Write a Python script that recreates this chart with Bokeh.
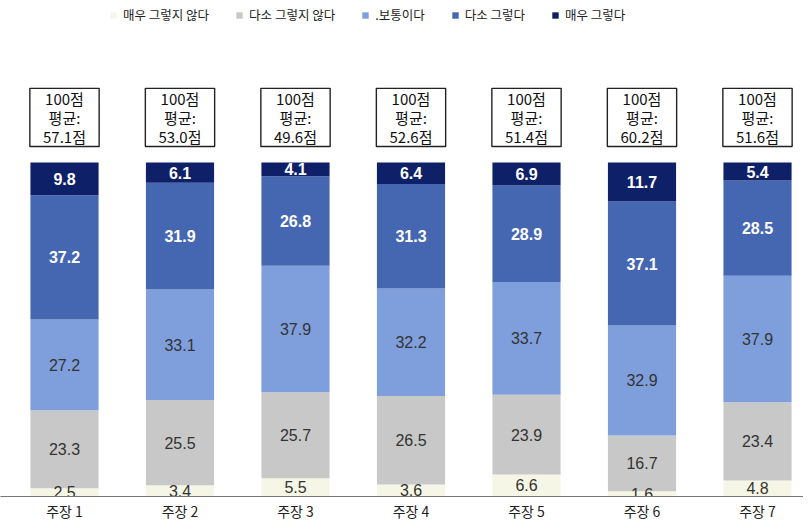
from bokeh.plotting import figure
from bokeh.models import ColumnDataSource, Range1d, FixedTicker, Legend, LegendItem
from bokeh.core.properties import value
from bokeh.embed import file_html
from bokeh.resources import INLINE

categories = ["주장 1", "주장 2", "주장 3", "주장 4", "주장 5", "주장 6", "주장 7"]
series_names = ["매우 그렇지 않다", "다소 그렇지 않다", ".보통이다", "다소 그렇다", "매우 그렇다"]
very_disagree = [2.5, 3.4, 5.5, 3.6, 6.6, 1.6, 4.8]
disagree = [23.3, 25.5, 25.7, 26.5, 23.9, 16.7, 23.4]
neutral = [27.2, 33.1, 37.9, 32.2, 33.7, 32.9, 37.9]
agree = [37.2, 31.9, 26.8, 31.3, 28.9, 37.1, 28.5]
strongly_agree = [9.8, 6.1, 4.1, 6.4, 6.9, 11.7, 5.4]
averages = [57.1, 53.0, 49.6, 52.6, 51.4, 60.2, 51.6]

colors = ["#F6F6E6", "#C8C8C8", "#7F9FDC", "#4567B2", "#0E2168"]
keys = ["s0", "s1", "s2", "s3", "s4"]
series = [very_disagree, disagree, neutral, agree, strongly_agree]

xs = list(range(1, len(categories) + 1))
data = {"x": xs}
for k, s in zip(keys, series):
    data[k] = s
src = ColumnDataSource(data)

W, H = 803, 523
frame_h = 496
px_per_unit = 3.34
step = 115.5
x0 = 1 - 64 / step
p = figure(width=W, height=H, output_backend="svg", toolbar_location=None,
           x_range=Range1d(x0, x0 + W / step),
           y_range=Range1d(0, frame_h / px_per_unit),
           min_border_left=0, min_border_right=0, min_border_top=0, min_border_bottom=H - frame_h)
p.outline_line_color = None
p.grid.visible = False
p.yaxis.visible = False
p.background_fill_color = "white"
p.border_fill_color = "white"

bar_w = 0.59
renderers = p.vbar_stack(keys, x="x", width=bar_w, color=colors, source=src, line_color=None)

# segment labels
lx, ly, lt = [], [], []
dx, dy, dt = [], [], []
for i, x in enumerate(xs):
    base = 0.0
    for j, s in enumerate(series):
        v = s[i]
        mid = base + v / 2
        if j >= 3:
            lx.append(x); ly.append(mid); lt.append(f"{v:.1f}")
        else:
            dx.append(x); dy.append(mid); dt.append(f"{v:.1f}")
        base += v

p.text(x=lx, y=ly, text=lt, text_color="white", text_font=value("Liberation Sans"),
       text_font_style="bold", text_font_size="16px", text_align="center", text_baseline="middle")
p.text(x=dx, y=dy, text=dt, text_color="#333333", text_font=value("Liberation Sans"),
       text_font_size="16px", text_align="center", text_baseline="middle")

# average boxes
box_y = [113.5] * len(xs)
p.rect(x=xs, y=box_y, width=0.6, height=17.4, fill_color="white", line_color="#222222", line_width=1.4)
box_text = [f"100점\n평균:\n{a:.1f}점" for a in averages]
p.text(x=xs, y=box_y, text=box_text, text_color="#111111", text_font=value("Noto Sans CJK KR"),
       text_font_size="15px", text_align="center", text_baseline="middle", text_line_height=0.92)

# axis
p.xaxis.ticker = FixedTicker(ticks=xs)
p.xaxis.major_label_overrides = {x: c for x, c in zip(xs, categories)}
p.xaxis.major_tick_line_color = None
p.xaxis.major_tick_out = 0
p.xaxis.major_tick_in = 0
p.xaxis.minor_tick_line_color = None
p.xaxis.minor_tick_out = 0
p.xaxis.axis_line_color = "#777777"
p.xaxis.major_label_text_font = "Noto Sans CJK KR"
p.xaxis.major_label_text_font_size = "14px"
p.xaxis.major_label_text_color = "#222222"
p.xaxis.major_label_standoff = 4

items = [LegendItem(label=n, renderers=[r]) for n, r in zip(series_names, renderers)]
legend = Legend(items=items, orientation="horizontal", location=(109, frame_h - 24),
                glyph_width=8, glyph_height=8, label_standoff=6, spacing=26,
                padding=0, margin=0, border_line_color=None, background_fill_alpha=0,
                label_text_font="Noto Sans CJK KR", label_text_font_size="12.5px",
                label_text_color="#222222", label_height=12)
p.add_layout(legend)

open("out.html", "w").write(file_html(p, INLINE))
